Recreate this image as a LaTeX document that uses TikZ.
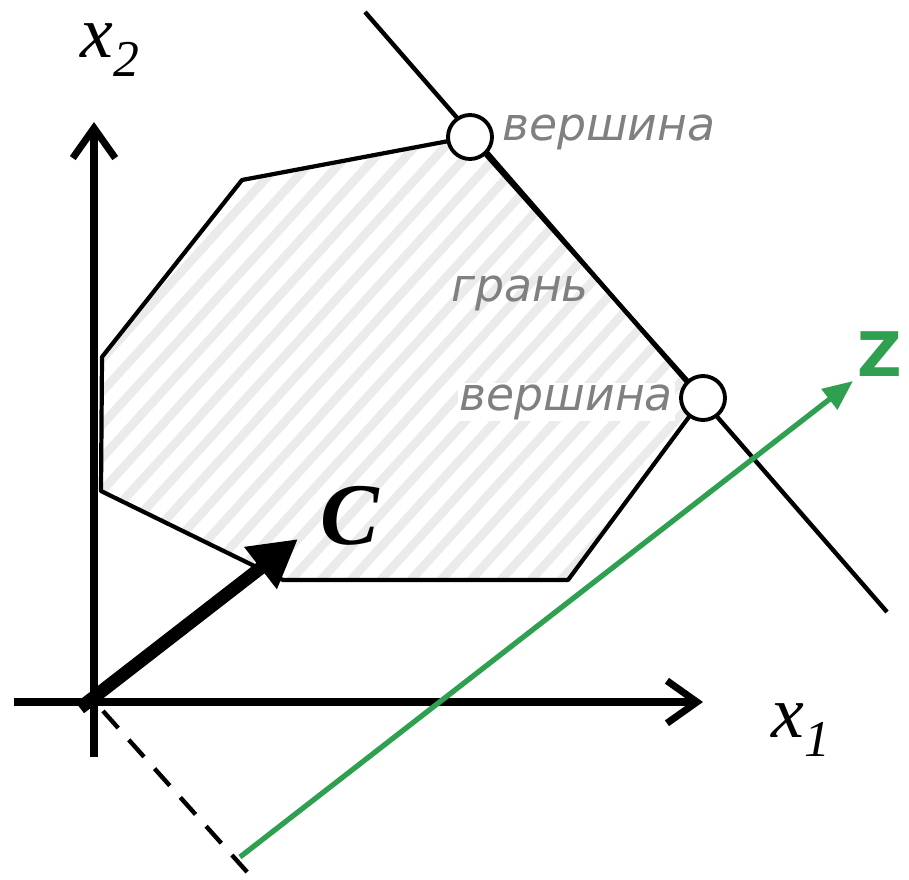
\documentclass[tikz,border=0pt]{standalone}
\usepackage{fontspec}
\setmainfont{Liberation Serif}
\newfontfamily\labelfont{DejaVu Sans}
\usetikzlibrary{arrows.meta, positioning}
\definecolor{zgreen}{RGB}{46,160,80}
\definecolor{labelgray}{RGB}{128,128,128}

\begin{document}
\begin{tikzpicture}[x=0.02cm, y=-0.02cm,
  axis/.style={line width=4pt, -{Straight Barb[length=6mm, width=8.5mm]}},
  edge/.style={line width=2.4pt, line join=round},
  stripe/.style={line width=5pt, gray!16},
  vertex/.style={circle, draw, line width=2.2pt, fill=white, minimum size=0.88cm, inner sep=0pt},
  vlabel/.style={font=\labelfont\itshape\fontsize{26}{26}\selectfont, text=labelgray, inner sep=1pt}
]
\useasboundingbox (0,0) rectangle (909,879);

% corners of the feasible region
\coordinate (v1) at (102,357);
\coordinate (v2) at (242,180);
\coordinate (v3) at (470,137);
\coordinate (v4) at (703,398);
\coordinate (v5) at (568,580);
\coordinate (v6) at (283,580);
\coordinate (v7) at (101,491);
\coordinate (O) at (94,702);

% hatching
\begin{scope}
  \clip (v1) -- (v2) -- (v3) -- (v4) -- (v5) -- (v6) -- (v7) -- cycle;
  \foreach \k in {-24,...,25}
    \draw[stripe] (\k*30,900) -- ++(1000,-1100);
\end{scope}
\draw[edge] (v1) -- (v2) -- (v3) -- (v4) -- (v5) -- (v6) -- (v7) -- cycle;

% supporting line
\coordinate (L1) at (365,12);
\coordinate (L2) at (887,612);
\draw[line width=2.5pt] (L1) -- (L2);

% axes
\coordinate (xs) at (14,702);
\coordinate (xe) at (703,702);
\coordinate (ys) at (94,757);
\coordinate (ye) at (94,122);
\draw[axis] (xs) -- (xe);
\draw[axis] (ys) -- (ye);

% objective direction and projection
\coordinate (D0) at (103,711);
\coordinate (D1) at (248,873);
\coordinate (G0) at (240,857);
\coordinate (G1) at (853,381);
\draw[line width=2.5pt, dash pattern=on 13pt off 9pt] (D0) -- (D1);
\draw[zgreen, line width=3pt, -{Triangle[length=6mm, width=5mm]}] (G0) -- (G1);

\coordinate (C0) at (80,708);
\coordinate (C1) at (298,539);
\draw[line width=7.5pt, -{Triangle[length=9.5mm, width=10mm]}] (C0) -- (C1);

\node[vertex] (c3) at (v3) {};
\node[vertex] (c4) at (v4) {};

% labels
\node[vlabel, anchor=west] (top) at (500,132) {вершина};
\node[vlabel] (face) at (520,293) {грань};
\node[vlabel, anchor=east, fill=white] (low) at (675,402) {вершина};
\node[font=\labelfont\bfseries\fontsize{35}{35}\selectfont, text=zgreen] (zlab) at (880,354) {Z};
\node[font=\bfseries\itshape\fontsize{50}{50}\selectfont] (clab) at (350,516) {C};
\node[font=\itshape\fontsize{42}{42}\selectfont, inner sep=0pt] (x2lab) at (110,50) {x\textsubscript{2}};
\node[font=\itshape\fontsize{42}{42}\selectfont, inner sep=0pt] (x1lab) at (801,730) {x\textsubscript{1}};
\end{tikzpicture}
\end{document}
